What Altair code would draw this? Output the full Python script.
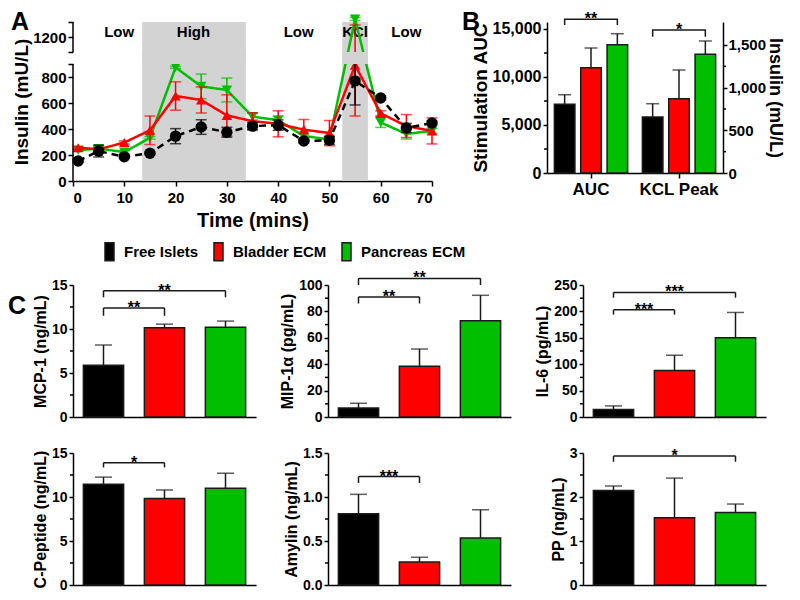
import altair as alt
import pandas as pd

FONT = "Liberation Sans"
EDGE = "#1a1a1a"

SERIES = ["Free Islets", "Bladder ECM", "Pancreas ECM"]
COLORS = ["#000000", "#ff0000", "#00bf00"]

# ---------------- Panel A data ----------------
TIME = [1, 5, 10, 15, 20, 25, 30, 35, 40, 45, 50, 55, 60, 65, 70]
FREE_A = [154, 230, 187, 213, 345, 415, 375, 422, 430, 308, 313, 770, 638, 408, 446]
FREE_A_ERR = [10, 45, 10, 10, 58, 56, 38, 28, 40, 15, 30, 185, 15, 35, 15]
BLADDER_A = [256, 244, 296, 390, 654, 623, 505, 460, 440, 395, 369, 890, 520, 423, 385]
BLADDER_A_ERR = [10, 15, 12, 110, 109, 100, 158, 65, 100, 78, 97, 390, 20, 88, 100]
PANCREAS_A = [236, 250, 222, 332, 874, 728, 700, 495, 468, 346, 320, 1320, 450, 362, 385]
PANCREAS_A_ERR = [8, 15, 10, 10, 8, 95, 92, 25, 30, 15, 20, 10, 38, 39, 20]

PHASE_LABELS = ["Low", "High", "Low", "KCl", "Low"]
PHASE_CENTERS = [9, 23.5, 44, 55, 65]
BAND_START = [13.5, 52.5]
BAND_END = [33.7, 57.5]

# ---------------- Panel B data ----------------
GROUPS = ["AUC", "KCL Peak"]
AUC_VALUES = [7150, 10970, 13360]
AUC_ERR = [1000, 2050, 1150]
KCL_VALUES = [656, 871, 1391]
KCL_ERR = [156, 336, 156]

# ---------------- Panel C data ----------------
MCP = [5.88, 10.15, 10.2]
MCP_ERR = [2.3, 0.4, 0.7]
MIP = [6.8, 38.5, 73.0]
MIP_ERR = [3.6, 13.0, 19.2]
IL6 = [14, 88, 150]
IL6_ERR = [7, 29, 48]
CPEP = [11.46, 9.82, 10.99]
CPEP_ERR = [0.8, 0.98, 1.71]
AMY = [0.81, 0.26, 0.535]
AMY_ERR = [0.22, 0.055, 0.32]
PP = [2.15, 1.53, 1.65]
PP_ERR = [0.1, 0.9, 0.19]

LEGEND = alt.Legend(
    title=None, orient="none", legendX=29, legendY=222, direction="horizontal",
    columns=3, symbolType="M-1,-2H1V2H-1Z", symbolSize=81,
    symbolStrokeColor=EDGE, symbolStrokeWidth=1.5, symbolOpacity=1,
    labelFont=FONT, labelFontSize=15, labelFontWeight="bold", labelColor="black",
    labelOffset=7, columnPadding=12, labelLimit=300, padding=0,
)
COLOR = alt.Color("series:N", scale=alt.Scale(domain=SERIES, range=COLORS), legend=LEGEND)


def letter(ch, dx, dy):
    return alt.Chart(pd.DataFrame({"t": [ch]})).mark_text(
        align="left", baseline="top", fontSize=25, fontWeight="bold", font=FONT, color="black"
    ).encode(text="t:N", x=alt.value(dx), y=alt.value(dy))


def minor_ticks(values, scale, axis, x0, x1):
    mids = [(a + b) / 2 for a, b in zip(values[:-1], values[1:])]
    return alt.Chart(pd.DataFrame({"m": mids})).mark_rule(color="black", strokeWidth=1.5).encode(
        y=alt.Y("m:Q", scale=scale, axis=axis), x=alt.value(x0), x2=alt.value(x1))


# ================= Panel A =================
A_W, A_H = 359, 159
xA_scale = alt.Scale(domain=[0, 70], nice=False, zero=False)
yA_scale = alt.Scale(domain=[0, 900, 1100, 1300], range=[A_H, 42, 30, 0], nice=False, zero=False)
xA_axis = alt.Axis(values=list(range(0, 71, 10)), format="d", title="Time (mins)",
                   titleFontSize=20, labelFontSize=15, tickSize=5, labelPadding=4, titlePadding=5)
yA_axis = alt.Axis(values=[0, 200, 400, 600, 800, 900, 1100, 1200, 1300], format="d",
                   labelExpr="indexof([900,1100,1300], datum.value) >= 0 ? '' : datum.label",
                   domain=False, title="Insulin (mU/L)", titleFontSize=19, labelFontSize=15,
                   tickSize=5, labelPadding=2, titlePadding=1)


def XA(field):
    return alt.X(field, scale=xA_scale, axis=xA_axis)


def YA(field):
    return alt.Y(field, scale=yA_scale, axis=yA_axis)


bands_df = pd.DataFrame({"start": BAND_START, "end": BAND_END})
phase_df = pd.DataFrame({"label": PHASE_LABELS, "center": PHASE_CENTERS})
axis_seg_df = pd.DataFrame({"y0": [0, 1100], "y1": [900, 1300]})

bands = alt.Chart(bands_df).mark_rect(color="#d3d3d3").encode(
    x=XA("start:Q"), x2="end:Q", y=alt.value(0), y2=alt.value(A_H))
phase_text = alt.Chart(phase_df).mark_text(fontSize=15, fontWeight="bold", font=FONT, color="black").encode(
    x=XA("center:Q"), y=alt.value(10), text="label:N")

rows = []
for s, vals, errs in zip(SERIES, [FREE_A, BLADDER_A, PANCREAS_A], [FREE_A_ERR, BLADDER_A_ERR, PANCREAS_A_ERR]):
    for t, v, e in zip(TIME, vals, errs):
        rows.append({"series": s, "time": t, "value": v, "lo": v - e, "hi": v + e})
a_df = pd.DataFrame(rows)

STYLE_A = {
    "Free Islets": dict(shape="circle", size=130, dash=[7, 5]),
    "Bladder ECM": dict(shape="triangle-up", size=110, dash=[1, 0]),
    "Pancreas ECM": dict(shape="triangle-down", size=110, dash=[1, 0]),
}

series_layers = []
for s, col in list(zip(SERIES, COLORS))[::-1]:
    sub = a_df[a_df["series"] == s]
    st = STYLE_A[s]
    base = alt.Chart(sub)
    series_layers.append(base.mark_line(color=col, strokeWidth=2.5, strokeDash=st["dash"]).encode(
        x=XA("time:Q"), y=YA("value:Q")))
    series_layers.append(base.mark_rule(color=col, strokeWidth=1.5).encode(
        x=XA("time:Q"), y=YA("lo:Q"), y2="hi:Q"))
    series_layers.append(base.mark_tick(color=col, orient="horizontal", size=11, thickness=1.5).encode(
        x=XA("time:Q"), y=YA("lo:Q")))
    series_layers.append(base.mark_tick(color=col, orient="horizontal", size=11, thickness=1.5).encode(
        x=XA("time:Q"), y=YA("hi:Q")))
    series_layers.append(base.mark_point(shape=st["shape"], size=st["size"], filled=True, opacity=1, color=col).encode(
        x=XA("time:Q"), y=YA("value:Q")))

gap_mask = alt.Chart(bands_df).mark_rect(color="#d3d3d3").encode(
    x=XA("start:Q"), x2="end:Q", y=alt.Y(datum=900, scale=yA_scale, axis=yA_axis), y2=alt.Y2(datum=1100))
axis_segs = alt.Chart(axis_seg_df).mark_rule(color="black", strokeWidth=1.5).encode(
    x=alt.value(0), y=YA("y0:Q"), y2="y1:Q")

panelA = alt.layer(bands, phase_text, *series_layers, gap_mask, axis_segs, letter("A", -62, -12)).properties(
    width=A_W, height=A_H)

# ================= Panel B =================
B_W, B_H = 176, 151
xB = alt.X("group:N", scale=alt.Scale(domain=GROUPS, paddingInner=0, paddingOuter=0),
           axis=alt.Axis(title=None, labelAngle=0, labelFontSize=17, tickSize=5, labelPadding=3))
xoff = alt.XOffset("series:N", scale=alt.Scale(domain=SERIES, paddingInner=0.22, paddingOuter=0.28))


def b_layer(group, values, errs, ymax, ticks, axis_title, orient, bracket_top, bracket_arm, stars,
            label_size, title_size, label_pad, title_pad, minor_x):
    df = pd.DataFrame({"group": group, "series": SERIES, "value": values,
                       "top": [v + e for v, e in zip(values, errs)]})
    ys = alt.Scale(domain=[0, ymax], nice=False)
    yax = alt.Axis(orient=orient, values=ticks, format=",d", title=axis_title, titleFontSize=title_size,
                   labelFontSize=label_size, tickSize=4, labelPadding=label_pad, titlePadding=title_pad)
    bars = alt.Chart(df).mark_bar(stroke=EDGE, strokeWidth=1.5).encode(
        x=xB, xOffset=xoff, y=alt.Y("value:Q", scale=ys, axis=yax), color=COLOR)
    err = alt.Chart(df).mark_rule(color=EDGE, strokeWidth=1.5).encode(
        x=xB, xOffset=xoff, y=alt.Y("value:Q", scale=ys, axis=yax), y2="top:Q")
    caps = alt.Chart(df).mark_tick(color=EDGE, orient="horizontal", size=13, thickness=1.5).encode(
        x=xB, xOffset=xoff, y=alt.Y("top:Q", scale=ys, axis=yax))
    br = pd.DataFrame({
        "group": group,
        "series": [SERIES[0], SERIES[0], SERIES[2], SERIES[2]],
        "y": [bracket_arm, bracket_top, bracket_top, bracket_arm],
        "order": [0, 1, 2, 3],
    })
    bracket = alt.Chart(br).mark_line(color=EDGE, strokeWidth=1.5).encode(
        x=xB, xOffset=xoff, y=alt.Y("y:Q", scale=ys, axis=yax), order="order:Q")
    sdf = pd.DataFrame({"group": [group], "series": [SERIES[1]], "y": [bracket_top], "label": [stars]})
    star = alt.Chart(sdf).mark_text(fontSize=16, fontWeight="bold", font=FONT, baseline="alphabetic", dy=5,
                                    color="black").encode(
        x=xB, xOffset=xoff, y=alt.Y("y:Q", scale=ys, axis=yax), text="label:N")
    minor = minor_ticks(ticks, ys, yax, minor_x[0], minor_x[1])
    return [bars, err, caps, bracket, star, minor]


# scale tops leave 7 px above the top tick, as in the figure
auc = alt.layer(*b_layer("AUC", AUC_VALUES, AUC_ERR, 15729, [0, 5000, 10000, 15000],
                         "Stimulation AUC", "left", 16010, 15420, "**", 16, 19, 2, 2, (-3, 0)),
                letter("B", -85, -12))
kcl = alt.layer(*b_layer("KCL Peak", KCL_VALUES, KCL_ERR, 1769.5, [0, 500, 1000, 1500],
                         "Insulin (mU/L)", "right", 1676, 1597, "*", 15, 18, 1, 0, (B_W, B_W + 3)))
panelB = alt.layer(auc, kcl).resolve_scale(y="independent").properties(width=B_W, height=B_H)

# ================= Panel C =================
C_W, C_H = 183, 132


def c_panel(title, vals, errs, ymax, yticks, fmt, brackets, tag=None):
    df = pd.DataFrame({"series": SERIES, "value": vals, "top": [v + e for v, e in zip(vals, errs)]})
    xs = alt.Scale(domain=SERIES, paddingInner=0.34, paddingOuter=0.17)
    X = alt.X("series:N", scale=xs, sort=SERIES, axis=alt.Axis(title=None, labels=False, ticks=False))
    ys = alt.Scale(domain=[0, ymax], nice=False)
    yax = alt.Axis(title=title, values=yticks, format=fmt, titleFontSize=16, labelFontSize=14,
                   tickSize=4, labelPadding=2, titlePadding=3)
    bars = alt.Chart(df).mark_bar(stroke=EDGE, strokeWidth=1.5).encode(
        x=X, y=alt.Y("value:Q", scale=ys, axis=yax), color=COLOR)
    err = alt.Chart(df).mark_rule(color=EDGE, strokeWidth=1.5).encode(
        x=X, y=alt.Y("value:Q", scale=ys, axis=yax), y2="top:Q")
    caps = alt.Chart(df).mark_tick(color=EDGE, orient="horizontal", size=17, thickness=1.5).encode(
        x=X, y=alt.Y("top:Q", scale=ys, axis=yax))
    main = alt.layer(bars, err, caps)

    h = pd.DataFrame([{"from": b[0], "to": b[1], "top": b[2], "mid": (b[0] + b[1]) / 2, "label": b[4]}
                      for b in brackets])
    v = pd.DataFrame([{"xi": xi, "arm": b[3], "top": b[2]} for b in brackets for xi in (b[0], b[1])])
    xl = alt.Scale(domain=[-0.5, 2.5], nice=False, zero=False)
    hr = alt.Chart(h).mark_rule(color=EDGE, strokeWidth=1.5).encode(
        x=alt.X("from:Q", scale=xl, axis=None), x2="to:Q", y=alt.Y("top:Q", scale=ys, axis=yax))
    vr = alt.Chart(v).mark_rule(color=EDGE, strokeWidth=1.5).encode(
        x=alt.X("xi:Q", scale=xl, axis=None), y=alt.Y("arm:Q", scale=ys, axis=yax), y2="top:Q")
    st = alt.Chart(h).mark_text(fontSize=16, fontWeight="bold", font=FONT, baseline="alphabetic", dy=5,
                                color="black").encode(
        x=alt.X("mid:Q", scale=xl, axis=None), y=alt.Y("top:Q", scale=ys, axis=yax), text="label:N")
    ann_layers = [hr, vr, st, minor_ticks(yticks, ys, yax, -3, 0)]
    if tag:
        ann_layers.append(letter(tag, -65, 9))
    ann = alt.layer(*ann_layers)
    return alt.layer(main, ann).resolve_scale(x="independent").properties(width=C_W, height=C_H)


c1 = c_panel("MCP-1 (ng/mL)", MCP, MCP_ERR, 15, [0, 5, 10, 15], "d",
             [(0, 1, 12.4, 11.5, "**"), (0, 2, 14.35, 13.6, "**")], tag="C")
c2 = c_panel("MIP-1α (pg/mL)", MIP, MIP_ERR, 100, [0, 20, 40, 60, 80, 100], "d",
             [(0, 1, 91, 86, "**"), (0, 2, 105, 100, "**")])
c3 = c_panel("IL-6 (pg/mL)", IL6, IL6_ERR, 250, [0, 50, 100, 150, 200, 250], "d",
             [(0, 1, 203, 194, "***"), (0, 2, 236, 226, "***")])
c4 = c_panel("C-Peptide (ng/mL)", CPEP, CPEP_ERR, 15, [0, 5, 10, 15], "d",
             [(0, 1, 13.9, 13.36, "*")])
c5 = c_panel("Amylin (ng/mL)", AMY, AMY_ERR, 1.5, [0, 0.5, 1.0, 1.5], ".1f",
             [(0, 1, 1.232, 1.159, "***")])
c6 = c_panel("PP (ng/mL)", PP, PP_ERR, 3, [0, 1, 2, 3], "d",
             [(0, 2, 2.93, 2.80, "*")])

row1 = alt.concat(panelA, panelB, columns=2, spacing=24, align="none")
grid_c = alt.concat(c1, c2, c3, c4, c5, c6, columns=3, align="each",
                    spacing={"row": 22, "column": 23})

chart = alt.vconcat(row1, grid_c, spacing=40,
                    padding={"left": 0, "top": 2, "right": 6, "bottom": 2}).configure_view(
    stroke=None).configure_axis(
    labelFont=FONT, titleFont=FONT, labelFontWeight="bold", titleFontWeight="bold",
    labelColor="black", titleColor="black", domainColor="black", tickColor="black",
    domainWidth=1.5, tickWidth=1.5, grid=False,
)

chart.save("out.html", embed_options={"renderer": "svg", "actions": False})
